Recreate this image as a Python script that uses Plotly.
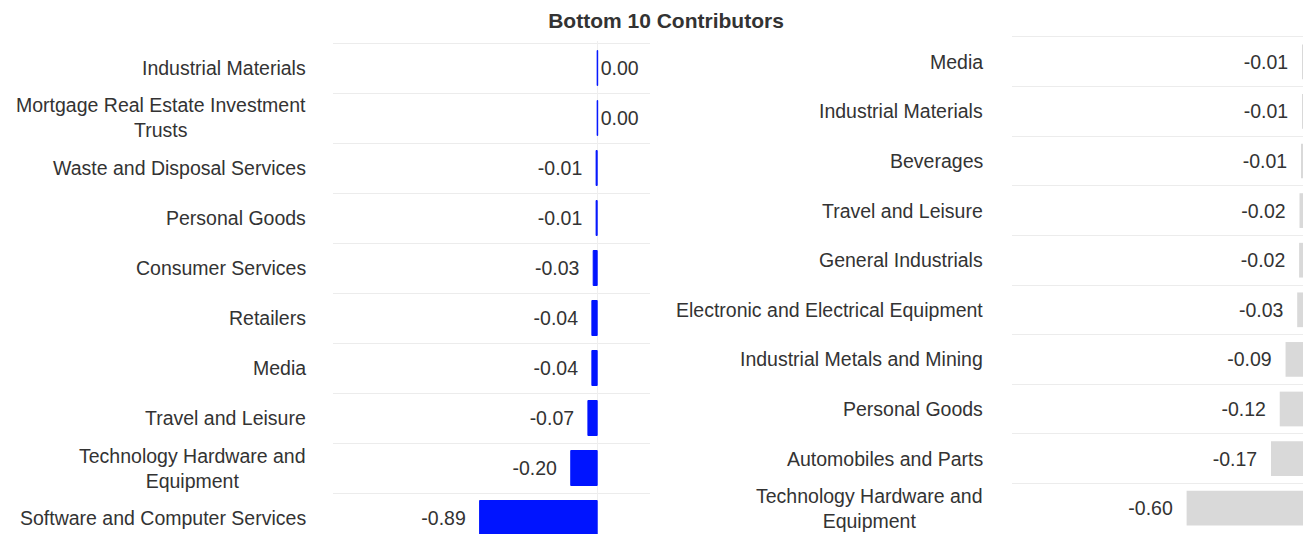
import plotly.graph_objects as go

# left panel: sectors dragging the portfolio
left_sectors = ['Industrial Materials', 'Mortgage Real Estate Investment<br>Trusts',
                'Waste and Disposal Services', 'Personal Goods', 'Consumer Services',
                'Retailers', 'Media', 'Travel and Leisure',
                'Technology Hardware and<br>Equipment', 'Software and Computer Services']
left_values = [0.004, 0.004, -0.008, -0.008, -0.03, -0.04, -0.04, -0.07, -0.20, -0.89]

# right panel: benchmark side
right_sectors = ['Media', 'Industrial Materials', 'Beverages', 'Travel and Leisure',
                 'General Industrials', 'Electronic and Electrical Equipment',
                 'Industrial Metals and Mining', 'Personal Goods', 'Automobiles and Parts',
                 'Technology Hardware and<br>Equipment']
right_values = [-0.005, -0.005, -0.009, -0.018, -0.02, -0.03, -0.09, -0.12, -0.165, -0.60]

FONT = 'Arial, Liberation Sans, sans-serif'
TXT = '#333333'
GRID = '#ececec'
W, H = 1303, 534


def label_text(values):
    # a little padding on the negative side, like the original data labels
    out = []
    for v in values:
        s = f'{v:.2f}'
        out.append(s + '\u00a0\u00a0' if v < 0 else s)
    return out


fig = go.Figure()
fig.add_trace(go.Bar(x=left_values, y=left_sectors, orientation='h',
                     marker=dict(color='#0014ff', line=dict(width=1, color='#0014ff')),
                     text=label_text(left_values), textposition='outside',
                     constraintext='none', cliponaxis=False,
                     textfont=dict(family=FONT, size=19.5, color=TXT),
                     xaxis='x', yaxis='y', showlegend=False))
fig.add_trace(go.Bar(x=right_values, y=right_sectors, orientation='h',
                     marker=dict(color='#d9d9d9', line=dict(width=0)),
                     text=label_text(right_values), textposition='outside',
                     constraintext='none', cliponaxis=False,
                     textfont=dict(family=FONT, size=19.5, color=TXT),
                     xaxis='x2', yaxis='y2', showlegend=False))

annotations = []
for name in left_sectors:
    annotations.append(dict(text=name, x=0, y=name, xref='x domain', yref='y',
                            xanchor='right', yanchor='middle', xshift=-25,
                            align='center', showarrow=False,
                            font=dict(family=FONT, size=19.5, color=TXT)))
for name in right_sectors:
    annotations.append(dict(text=name, x=0, y=name, xref='x2 domain', yref='y2',
                            xanchor='right', yanchor='middle', xshift=-27,
                            align='center', showarrow=False,
                            font=dict(family=FONT, size=19.5, color=TXT)))

# ranges pad the category ends slightly so the edge gridlines still get drawn
fig.update_layout(
    width=W, height=H,
    margin=dict(l=0, r=0, t=0, b=0),
    paper_bgcolor='white', plot_bgcolor='white',
    bargap=0.3,
    font=dict(family=FONT, color=TXT),
    title=dict(text='<b>Bottom 10 Contributors</b>', x=666 / W, y=1 - 20.5 / H,
               xanchor='center', yanchor='middle', xref='paper', yref='paper',
               font=dict(family=FONT, size=21, color=TXT)),
    xaxis=dict(domain=[333 / W, 650 / W], range=[-2.0, 0.4], anchor='y',
               showgrid=False, showticklabels=False, zeroline=True,
               zerolinecolor='#efefef', zerolinewidth=1),
    yaxis=dict(domain=[0, 1 - 41 / H], range=[9.32, -0.54], anchor='x',
               type='category', tickson='boundaries', showgrid=True,
               gridcolor=GRID, showticklabels=False, zeroline=False),
    xaxis2=dict(domain=[1012 / W, 1.0], range=[-1.5, 0], anchor='y2',
                showgrid=False, showticklabels=False, zeroline=False),
    yaxis2=dict(domain=[0, 1 - 35 / H], range=[9.52, -0.54], anchor='x2',
                type='category', tickson='boundaries', showgrid=True,
                gridcolor=GRID, showticklabels=False, zeroline=False),
    annotations=annotations,
)

# the page body has a default 8px margin; drop it so the figure fills the window
fig.write_html('out.html', config={'displayModeBar': False},
               post_script="document.body.style.margin='0';"
                           "document.body.style.overflow='hidden';")
